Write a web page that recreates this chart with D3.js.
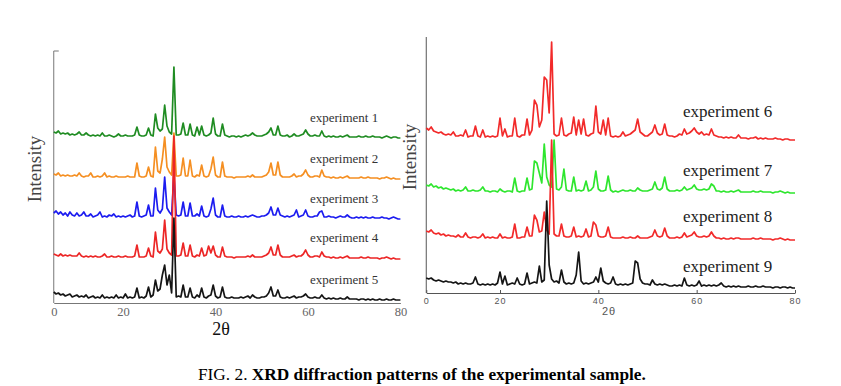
<!DOCTYPE html>
<html>
<head>
<meta charset="utf-8">
<script src="https://cdn.jsdelivr.net/npm/d3@7"></script>
<style>
  body { margin: 0; background: #fff; }
</style>
</head>
<body>
<div id="chart"></div>
<script>
// 2-theta grid shared by every pattern (5 to 80 deg, 0.5 deg step)
const twoTheta = d3.range(5, 80.01, 0.5);

// left panel patterns (intensity above each pattern's offset, one row = 5 deg)
const exp1 = [
  8,7,9,6,7,6,7,5,6,5, 6,8,5,5,7,5,4,5,4,5, 4,7,4,4,5,4,3,4,6,4,
  4,5,4,4,4,5,13,5,4,4, 5,12,5,4,26,12,9,11,35,14, 8,6,73,5,5,6,17,5,5,16,
  5,4,13,5,14,5,4,5,7,22, 6,4,4,16,5,4,3,4,4,3, 4,3,4,5,4,5,7,5,4,4,
  4,5,6,8,12,5,5,14,5,4, 4,5,3,4,6,4,4,5,6,10, 6,4,4,5,4,4,9,4,3,4,
  3,4,3,3,4,3,4,5,3,3, 3,3,4,3,3,4,3,3,4,3, 3,3,2,3,4,3,2,3,3,2, 2
];
const exp2 = [
  7,6,8,5,6,5,6,5,5,6, 5,8,5,4,5,5,8,4,4,5, 4,5,8,4,5,4,4,5,4,4,
  4,4,5,4,4,4,18,5,4,4, 5,14,5,4,34,10,8,22,44,14, 9,6,48,5,5,6,23,5,5,21,
  5,4,6,5,16,5,4,5,12,24, 6,4,4,19,5,4,4,4,3,4, 4,4,4,4,5,4,6,4,4,4,
  4,5,6,9,18,6,6,19,6,4, 4,4,4,5,7,4,5,5,7,11, 6,4,4,5,5,4,11,5,4,4,
  3,4,3,3,4,3,4,5,3,3, 3,3,3,4,3,3,4,3,3,3, 3,2,3,3,4,3,2,3,2,2, 2
];
const exp3 = [
  8,10,7,9,6,8,5,9,6,5, 8,5,6,9,5,5,7,4,5,6, 9,4,5,4,6,5,7,4,5,4,
  5,4,5,6,4,5,19,5,4,5, 6,16,5,5,33,11,8,12,44,13, 9,6,46,6,5,6,19,5,5,18,
  5,5,7,5,15,5,4,5,12,23, 6,4,4,16,5,4,4,5,4,4, 5,4,4,5,4,5,6,5,4,4,
  5,5,6,8,14,6,6,13,6,5, 4,5,4,5,6,11,4,5,6,11, 5,4,4,5,5,9,10,4,4,5,
  4,4,3,4,5,4,4,6,4,3, 3,4,3,4,3,4,3,3,4,3, 3,3,4,3,3,2,3,4,3,2, 2
];
const exp4 = [
  7,6,5,7,5,6,5,6,5,5, 5,8,5,4,5,4,5,4,5,4, 4,5,7,4,4,5,4,4,5,4,
  4,5,4,4,4,5,16,4,4,4, 5,13,5,4,29,10,8,12,41,12, 8,6,125,5,5,6,18,5,5,16,
  5,4,6,5,13,5,6,15,8,15, 6,4,4,14,5,4,4,4,3,4, 4,4,4,4,5,4,6,4,4,4,
  4,5,6,8,14,6,6,16,6,4, 4,4,4,5,6,4,5,5,7,11, 6,4,4,5,5,4,9,5,4,4,
  3,4,3,3,4,3,4,5,3,3, 3,3,3,4,3,3,4,3,3,3, 3,2,3,3,4,3,2,3,2,2, 2
];
const exp5 = [
  11,9,10,8,9,7,8,9,6,7, 8,6,7,6,8,5,6,7,5,6, 5,8,5,6,5,6,5,8,5,6,
  5,9,5,6,5,6,15,5,6,5, 7,16,6,8,23,12,14,28,38,18, 28,10,85,6,7,6,18,6,6,15,
  6,5,8,6,15,6,5,7,8,18, 7,5,6,16,6,5,5,6,5,5, 5,6,5,6,7,5,8,6,5,5,
  6,6,7,10,16,7,7,13,6,5, 5,6,5,6,7,5,6,6,7,9, 6,5,5,6,5,5,8,5,4,5,
  4,5,4,4,5,4,4,6,4,4, 4,4,3,4,4,3,4,3,4,3, 3,4,3,3,4,3,3,4,3,3, 3
];

// right panel patterns
const exp6 = [
  14,12,15,11,10,9,10,8,7,8, 7,10,6,6,7,6,12,5,6,6, 16,6,5,12,5,6,5,6,5,6,
  24,6,13,5,6,6,24,6,5,7, 7,23,7,12,42,37,15,22,65,62, 29,100,8,6,7,24,7,6,8,9,
  25,7,22,8,23,7,6,8,9,36, 10,8,22,7,24,6,5,6,5,6, 10,6,7,8,10,12,23,10,8,6,
  6,8,10,17,9,7,8,18,7,6, 6,5,6,8,7,13,8,9,11,14, 10,8,10,7,8,7,13,7,6,5,
  5,4,5,4,5,4,4,7,4,4, 4,3,4,4,5,3,4,3,4,3, 3,3,4,3,3,2,3,3,2,2, 2
];
const exp7 = [
  10,9,11,8,9,7,8,6,7,6, 5,6,4,5,4,5,8,4,4,5, 4,4,5,8,4,4,3,4,4,3,
  6,4,3,4,4,3,17,4,3,4, 4,17,5,6,34,32,22,12,51,18, 10,8,55,6,5,8,26,5,4,4,
  18,4,5,4,5,14,4,5,8,24, 6,4,4,5,19,5,3,4,3,4, 5,4,4,5,4,4,7,5,4,4,
  4,5,6,13,6,5,7,18,6,4, 4,4,5,4,5,8,5,6,7,10, 6,5,5,6,5,6,11,9,4,4,
  3,4,3,3,4,3,4,5,3,3, 3,3,3,4,3,3,4,3,3,3, 3,2,3,3,4,3,2,3,2,2, 2
];
const exp8 = [
  11,10,12,9,8,9,7,8,6,7, 6,6,5,7,5,5,9,5,4,5, 5,4,5,8,4,5,4,5,4,4,
  8,4,5,4,4,5,18,4,4,5, 5,15,6,6,27,22,10,11,30,12, 8,102,8,6,6,18,6,5,5,6,
  15,5,6,5,6,13,5,6,20,17, 6,5,5,6,15,5,4,4,4,4, 5,4,4,5,4,4,6,4,4,4,
  4,5,6,12,6,5,6,14,6,4, 4,4,5,4,5,9,5,6,7,10, 6,5,5,6,5,6,10,6,4,4,
  3,4,3,3,4,3,4,4,3,3, 3,3,3,4,3,3,4,3,3,3, 3,2,3,3,4,3,2,3,2,2, 2
];
const exp9 = [
  15,14,15,13,12,13,12,11,12,11, 11,10,11,9,10,9,10,9,9,10, 16,9,8,9,8,9,8,9,8,10,
  21,9,17,8,9,10,9,15,9,8, 9,20,9,10,11,10,27,11,13,92, 28,14,11,12,10,23,11,9,10,9,
  10,18,41,12,9,10,9,10,11,16, 11,25,12,10,9,10,16,9,8,9, 8,9,8,9,10,32,30,14,10,9,
  9,8,13,9,8,9,8,9,8,7, 7,8,7,8,7,15,8,7,8,7, 8,12,7,8,7,8,7,8,7,8,
  10,7,6,7,6,7,6,7,6,6, 6,7,6,6,7,6,6,7,6,6, 6,5,6,6,5,6,6,5,6,5, 5
];

const leftNames = ["experiment 1", "experiment 2", "experiment 3", "experiment 4", "experiment 5"];
const leftSeries = [exp1, exp2, exp3, exp4, exp5];
const leftOffsets = [163, 122, 82, 42, 0];
const leftColors = ["#1f8c22", "#f58f22", "#1c1cf0", "#ec2626", "#151515"];

const rightNames = ["experiment 6", "experiment 7", "experiment 8", "experiment 9"];
const rightSeries = [exp6, exp7, exp8, exp9];
const rightOffsets = [151, 98, 51, 0];
const rightColors = ["#f22a2a", "#2ee62e", "#f22a2a", "#151515"];

const xTicks = [5, 20, 40, 60, 80];

document.addEventListener("DOMContentLoaded", function () {
  const width = 841,
    height = 386;

  const svg = d3
    .select("#chart")
    .append("svg")
    .attr("width", width)
    .attr("height", height)
    .style("display", "block");

  svg.append("rect").attr("width", width).attr("height", height).attr("fill", "#fff");

  // the first tick sits on the axis origin and is printed as "0" in the figure
  const tickFmt = (d) => (d === 5 ? "0" : d);

  // ---------- left panel ----------
  const xL = d3.scaleLinear().domain([5, 80]).range([53.75, 400.4]);
  const yL = d3.scaleLinear().domain([0, 252]).range([303, 51]);
  const left = svg.append("g");

  const axL = left
    .append("g")
    .attr("transform", `translate(0,${yL(0)})`)
    .call(d3.axisBottom(xL).tickValues(xTicks).tickFormat(tickFmt).tickSize(0).tickPadding(4));
  axL.select(".domain").attr("stroke", "#777");
  axL
    .selectAll("text")
    .attr("fill", "#666")
    .style("font-family", "'Liberation Serif', 'Times New Roman', serif")
    .style("font-size", "12.5px");

  // y axis with the little cap tick at the top
  left
    .append("path")
    .attr("d", `M${xL(5) + 5},${yL(252)}H${xL(5)}V${yL(0)}`)
    .attr("fill", "none")
    .attr("stroke", "#777");

  leftSeries.forEach((vals, k) => {
    const line = d3
      .line()
      .x((d, i) => xL(twoTheta[i]))
      .y((d) => yL(d + leftOffsets[k]));
    left
      .append("path")
      .datum(vals)
      .attr("d", line)
      .attr("fill", "none")
      .attr("stroke", leftColors[k])
      .attr("stroke-width", 1.7)
      .attr("stroke-linejoin", "round");
  });

  // series labels
  const leftLabelY = [122, 163, 203, 242, 284];
  left
    .selectAll("text.lbl")
    .data(leftNames)
    .enter()
    .append("text")
    .attr("class", "lbl")
    .attr("x", 310)
    .attr("y", (d, i) => leftLabelY[i])
    .attr("fill", "#333")
    .style("font-family", "'Liberation Serif', 'Times New Roman', serif")
    .style("font-size", "13px")
    .text((d) => d);

  left
    .append("text")
    .attr("x", 221)
    .attr("y", 335)
    .attr("text-anchor", "middle")
    .attr("fill", "#111")
    .style("font-family", "'Liberation Serif', 'Times New Roman', serif")
    .style("font-size", "18px")
    .text("2θ");

  left
    .append("text")
    .attr("transform", "translate(40.5,169) rotate(-90)")
    .attr("text-anchor", "middle")
    .attr("fill", "#444")
    .style("font-family", "'Liberation Serif', 'Times New Roman', serif")
    .style("font-size", "19px")
    .text("Intensity");

  // ---------- right panel ----------
  const xR = d3.scaleLinear().domain([5, 80]).range([426.25, 795]);
  const yR = d3.scaleLinear().domain([0, 256]).range([293, 37]);
  const right = svg.append("g");

  const axR = right
    .append("g")
    .attr("transform", `translate(0,${yR(0)})`)
    .call(
      d3
        .axisBottom(xR)
        .tickValues(xTicks)
        .tickFormat(tickFmt)
        .tickSizeInner(-3)
        .tickSizeOuter(0)
        .tickPadding(5)
    );
  axR.select(".domain").attr("stroke", "#555");
  axR.selectAll("line").attr("stroke", "#555");
  axR
    .selectAll("text")
    .attr("fill", "#555")
    .style("font-family", "'Liberation Sans', Arial, sans-serif")
    .style("font-size", "9px")
    .style("letter-spacing", "1px");

  right
    .append("line")
    .attr("x1", xR(5))
    .attr("x2", xR(5))
    .attr("y1", yR(256))
    .attr("y2", yR(0))
    .attr("stroke", "#555");

  rightSeries.forEach((vals, k) => {
    const line = d3
      .line()
      .x((d, i) => xR(twoTheta[i]))
      .y((d) => yR(d + rightOffsets[k]));
    right
      .append("path")
      .datum(vals)
      .attr("d", line)
      .attr("fill", "none")
      .attr("stroke", rightColors[k])
      .attr("stroke-width", 1.7)
      .attr("stroke-linejoin", "round");
  });

  const rightLabelY = [117, 176, 222, 272];
  right
    .selectAll("text.lbl")
    .data(rightNames)
    .enter()
    .append("text")
    .attr("class", "lbl")
    .attr("x", 683)
    .attr("y", (d, i) => rightLabelY[i])
    .attr("fill", "#222")
    .style("font-family", "'Liberation Serif', 'Times New Roman', serif")
    .style("font-size", "17px")
    .text((d) => d);

  right
    .append("text")
    .attr("x", 609)
    .attr("y", 315)
    .attr("text-anchor", "middle")
    .attr("fill", "#555")
    .style("font-family", "'Liberation Sans', Arial, sans-serif")
    .style("font-size", "11px")
    .style("letter-spacing", "1px")
    .text("2θ");

  right
    .append("text")
    .attr("transform", "translate(416,157) rotate(-90)")
    .attr("text-anchor", "middle")
    .attr("fill", "#444")
    .style("font-family", "'Liberation Serif', 'Times New Roman', serif")
    .style("font-size", "19px")
    .text("Intensity");

  // ---------- caption ----------
  const cap = svg
    .append("text")
    .attr("x", 198)
    .attr("y", 380)
    .attr("fill", "#000")
    .style("font-family", "'Liberation Serif', 'Times New Roman', serif")
    .style("font-size", "17.3px");
  cap.append("tspan").text("FIG. 2. ");
  cap
    .append("tspan")
    .style("font-weight", "bold")
    .text("XRD diffraction patterns of the experimental sample.");
});
</script>
</body>
</html>
